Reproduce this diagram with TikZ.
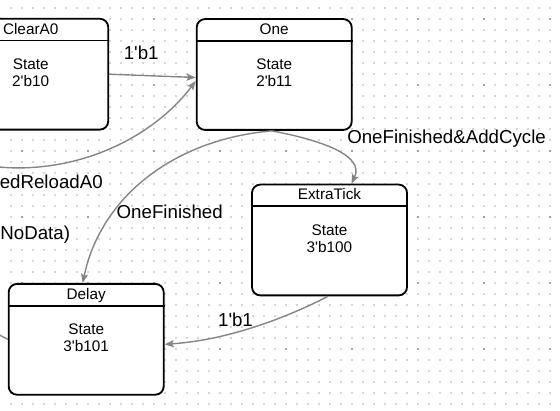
\documentclass[tikz,border=0pt]{standalone}
\usepackage{fontspec}
\setmainfont{Liberation Sans}[Ligatures=TeXOff]
\usetikzlibrary{%
  arrows.meta,%
  calc,% wg. ($...$)
  positioning%
}

\begin{document}
\begin{tikzpicture}[
  x=0.025cm, y=-0.025cm,
  >={Stealth[length=6.5pt,width=5pt,inset=1.2pt]},
  statebody/.style={draw=black, fill=white, line width=1.3pt, rounded corners=0.21cm,
    minimum width=3.875cm, minimum height=2.77cm, inner sep=0pt},
  headline/.style={line width=1.3pt},
  statetext/.style={font=\fontsize{10.9}{12}\selectfont, inner sep=0pt, anchor=base},
  transition/.style={->, draw=black!48, line width=1pt},
  edgelabel/.style={font=\fontsize{13.3}{15}\selectfont, inner sep=0pt, anchor=base},
  dotminor/.style={fill=black!16},
  dotmajor/.style={fill=black!36},
]

\useasboundingbox (0,0) rectangle (560,411);
\clip (0,0) rectangle (560,411);

% dotted grid
\foreach \i in {0,...,50} {
  \foreach \j in {0,...,37} {
    \fill[dotminor] (10.7+11*\i-1,8+11*\j-1) rectangle ++(2,2);
  }
}
\foreach \i in {0,...,8} {
  \foreach \j in {0,...,5} {
    \fill[dotmajor] (21.7+66*\i-1,19+66*\j-1) rectangle ++(2,2);
  }
}

% states
\foreach \name/\pos/\title/\code in {%
  clearA0/{30.7,74.2}/ClearA0/2'b10,%
  one/{274.2,74.5}/One/2'b11,%
  extraTick/{329.5,240}/ExtraTick/3'b100,%
  delay/{86.2,339.3}/Delay/3'b101} {
  \node[statebody] (\name) at (\pos) {};
  \draw[headline] ($(\name.north west)+(0,22.7)$) -- ($(\name.north east)+(0,22.7)$);
  \node[statetext] (\name-title) at ($(\name.north)+(0,16.3)$) {\title};
  \node[statetext] (\name-state) at ($(\name.north)+(0,51.5)$) {State};
  \node[statetext] (\name-code) at ($(\name.north)+(0,68.7)$) {\code};
}

% transitions
\coordinate (fromLeft) at (-40,160);
\coordinate (toLeft) at (-20,325);
\draw[transition] (clearA0.east) -- ($(one.west)+(0,3)$);
\draw[transition] (fromLeft) .. controls (50,185) and (145,148) .. ($(one.west)+(0,6.5)$);
\draw[transition] ($(one.south)+(-2.5,0)$) .. controls (320,140) and (365,155) .. ($(extraTick.north)+(22,0)$);
\draw[transition] ($(one.south)+(-2.5,0)$) .. controls (170,140) and (100,200) .. ($(delay.north)+(-3.5,0)$);
\draw[transition] ($(extraTick.south)+(-1.5,0)$) .. controls (290,316) and (230,340) .. ($(delay.east)+(0,5)$);
\draw[transition,-] (delay.west) -- (toLeft);

% labels
\node[edgelabel] (lblClear) at (141.2,59.3) {1'b1};
\node[edgelabel, anchor=base west] (lblReload) at (-0.5,188.3) {edReloadA0};
\node[edgelabel, anchor=base west] (lblAdd) at (347,144) {OneFinished\&AddCycle};
\node[edgelabel] (lblFinished) at (169.7,218.3) {OneFinished};
\node[edgelabel, anchor=base east] (lblNoData) at (70.3,240) {NoData)};
\node[edgelabel] (lblTick) at (235.5,326.7) {1'b1};

\end{tikzpicture}
\end{document}
